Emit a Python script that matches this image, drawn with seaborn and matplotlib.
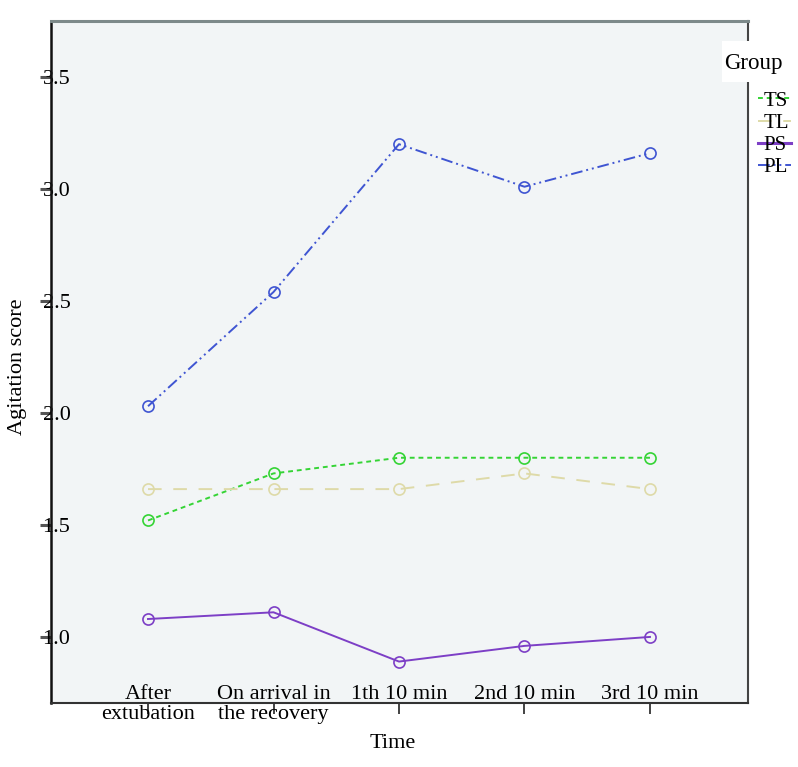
import matplotlib
matplotlib.use("Agg")
import matplotlib.pyplot as plt
from matplotlib.lines import Line2D
from matplotlib.patches import Rectangle
import seaborn as sns
import pandas as pd

# ---- data ----
time_labels = ["After\nextubation", "On arrival in\nthe recovery", "1th 10 min", "2nd 10 min", "3rd 10 min"]
groups = ["TS", "TL", "PS", "PL"]
ts_values = [1.52, 1.73, 1.80, 1.80, 1.80]
tl_values = [1.66, 1.66, 1.66, 1.73, 1.66]
ps_values = [1.08, 1.11, 0.89, 0.96, 1.00]
pl_values = [2.03, 2.54, 3.20, 3.01, 3.16]
y_ticks = [1.0, 1.5, 2.0, 2.5, 3.0, 3.5]

colors = {"TS": "#35d435", "TL": "#dedaa8", "PS": "#7d3fc6", "PL": "#3f55d2"}
dashes = {"TS": (2.5, 2), "TL": (7, 6), "PS": "", "PL": (6, 2, 1, 2, 1, 2)}

rows = []
for g, vals in zip(groups, [ts_values, tl_values, ps_values, pl_values]):
    for t, v in zip(time_labels, vals):
        rows.append({"Time": t, "Agitation score": v, "Group": g})
df = pd.DataFrame(rows)

plt.rcParams["font.family"] = ["Liberation Serif", "DejaVu Serif"]

W, H = 798, 767
fig = plt.figure(figsize=(W / 100, H / 100), dpi=100)
ax = fig.add_axes([51 / W, 1 - 703 / H, (748 - 51) / W, (703 - 21) / H])
ax.set_facecolor("#f2f5f6")

sns.lineplot(data=df, x="Time", y="Agitation score", hue="Group", style="Group",
             palette=colors, dashes=dashes, markers={g: "o" for g in groups},
             hue_order=groups, style_order=groups, sort=False, legend=False,
             linewidth=1.4, markersize=8, ax=ax)
for ln in ax.lines:
    c = ln.get_color()
    ln.set_markerfacecolor("none")
    ln.set_markeredgecolor(c)
    ln.set_markeredgewidth(1.2)

FS = 16
ax.set_xlim(-0.773, 4.781)
ax.set_ylim(0.705, 3.75)
ax.set_xticks(range(len(time_labels)))
ax.set_xticklabels(time_labels, fontsize=FS, linespacing=1.1, va="top")
ax.set_yticks(y_ticks)
ax.set_yticklabels([f"{v:.1f}" for v in y_ticks], fontsize=FS)
ax.tick_params(axis="x", direction="out", length=8, width=1.2, color="#222222", pad=-21)
ax.tick_params(axis="y", direction="out", length=8, width=2.2, color="#555555", pad=-22)

ax.set_xlabel("Time", fontsize=FS)
ax.xaxis.set_label_coords((393 - 51) / 697, (703 - 744) / 682)
ax.xaxis.label.set_va("center")
ax.set_ylabel("Agitation score", fontsize=FS)
ax.yaxis.set_label_coords((18 - 51) / 697, (703 - 367) / 682)
ax.yaxis.label.set_va("center")

ax.spines["left"].set_color("#111111")
ax.spines["left"].set_linewidth(1.8)
ax.spines["bottom"].set_color("#333333")
ax.spines["bottom"].set_linewidth(1.5)
ax.spines["top"].set_color("#7d8a8a")
ax.spines["top"].set_linewidth(2.2)
ax.spines["right"].set_color("#444444")
ax.spines["right"].set_linewidth(1.5)

# legend
handles = [Line2D([], [], color=colors[g], linestyle=(0, dashes[g]) if dashes[g] else "-",
                  linewidth=1.4 if g != "PS" else 2.2) for g in groups]
leg = ax.legend(handles, groups, loc="upper left", bbox_to_anchor=(758 / W, 1 - 91 / H),
                bbox_transform=fig.transFigure, frameon=False, fontsize=15,
                handlelength=1.6, handletextpad=-1.35, labelspacing=0.13,
                borderpad=0, borderaxespad=0)
leg.set_zorder(10)

fig.patches.append(Rectangle((722 / W, 1 - 82 / H), 76 / W, 41 / H, transform=fig.transFigure,
                             facecolor="white", edgecolor="none", zorder=5))
fig.text(724 / W, 1 - 63 / H, "Group", fontsize=16.5, ha="left", va="center", zorder=6)

fig.savefig("out.png", dpi=100)
